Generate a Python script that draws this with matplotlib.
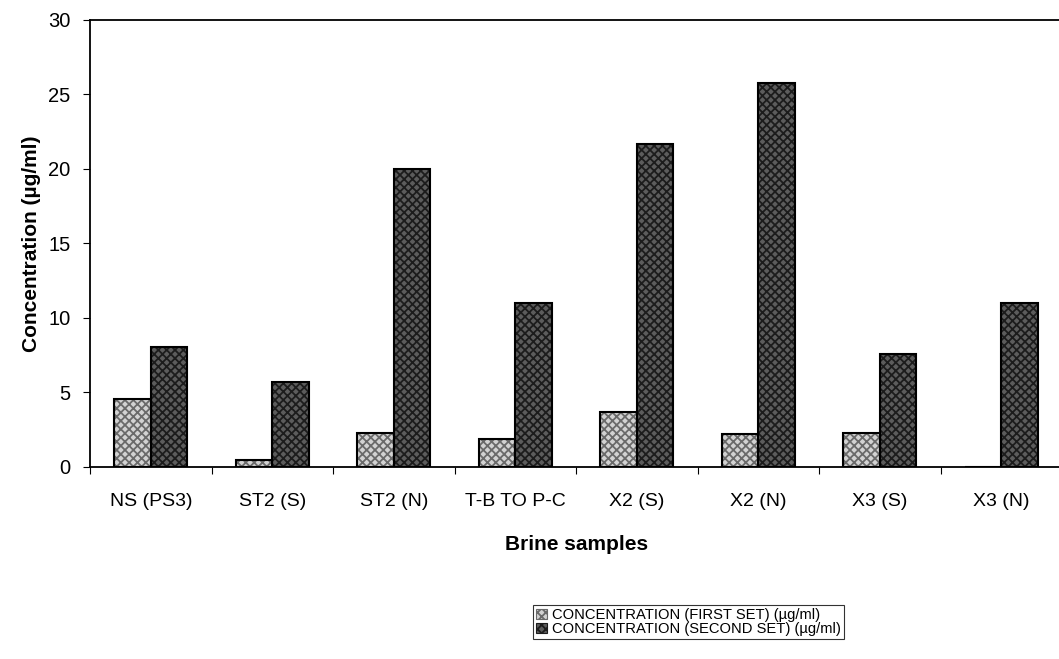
import numpy as np
import matplotlib.pyplot as plt
from matplotlib.patches import Patch

plt.rcParams['font.family'] = ['Liberation Sans', 'DejaVu Sans']
plt.rcParams['hatch.linewidth'] = 1.3

# Data
samples = ['NS (PS3)', 'ST2 (S)', 'ST2 (N)', 'T-B TO P-C', 'X2 (S)', 'X2 (N)', 'X3 (S)', 'X3 (N)']
first_set = [4.55, 0.5, 2.3, 1.9, 3.7, 2.2, 2.3, 0.0]
second_set = [8.05, 5.7, 20.0, 11.0, 21.7, 25.8, 7.6, 11.0]
series_labels = ['CONCENTRATION (FIRST SET) (\u00b5g/ml)', 'CONCENTRATION (SECOND SET) (\u00b5g/ml)']

first_face, first_hatch = '#d2d2d2', '#6a6a6a'
second_face, second_hatch = '#5c5c5c', '#1c1c1c'

fig = plt.figure(figsize=(10.59, 6.59), dpi=100)
ax = fig.add_axes([0.085, 0.2914, 0.918, 0.6783])

x = np.arange(len(samples))
w = 0.3

# hatched fills, then black outlines on top
ax.bar(x - w / 2, first_set, w, color=first_face, edgecolor=first_hatch, hatch='xxxx', linewidth=0)
ax.bar(x + w / 2, second_set, w, color=second_face, edgecolor=second_hatch, hatch='xxxx', linewidth=0)
ax.bar(x - w / 2, first_set, w, fill=False, edgecolor='black', linewidth=1.5)
ax.bar(x + w / 2, second_set, w, fill=False, edgecolor='black', linewidth=1.5)

ax.set_xlim(-0.5, len(samples) - 0.5)
ax.set_ylim(0, 30)
ax.set_yticks(range(0, 31, 5))
ax.tick_params(axis='y', labelsize=14.5, direction='out', length=5, pad=9)

# ticks at category boundaries, labels at centers
ax.set_xticks(np.arange(len(samples) + 1) - 0.5)
ax.set_xticklabels([])
ax.set_xticks(x, minor=True)
ax.set_xticklabels(samples, minor=True, fontsize=14)
ax.tick_params(axis='x', which='major', length=5, direction='out')
ax.tick_params(axis='x', which='minor', length=0, pad=19)

for s in ax.spines.values():
    s.set_linewidth(1.3)

ax.set_ylabel('Concentration (\u00b5g/ml)', fontsize=15, fontweight='bold', labelpad=5)
ax.set_xlabel('Brine samples', fontsize=15, fontweight='bold', labelpad=18)

handles = [Patch(facecolor=first_face, edgecolor=first_hatch, hatch='xxxx', linewidth=0.8),
           Patch(facecolor=second_face, edgecolor=second_hatch, hatch='xxxx', linewidth=0.8)]
leg = fig.legend(handles, series_labels, loc='upper left',
                 bbox_to_anchor=(533 / 1059, 1 - 605 / 659),
                 frameon=True, fancybox=False, fontsize=10.6,
                 handlelength=0.75, handleheight=0.7, handletextpad=0.35,
                 labelspacing=0.0, borderpad=0.2, borderaxespad=0)
leg.get_frame().set_edgecolor('black')
leg.get_frame().set_linewidth(0.8)

fig.savefig('out.png', dpi=100)
